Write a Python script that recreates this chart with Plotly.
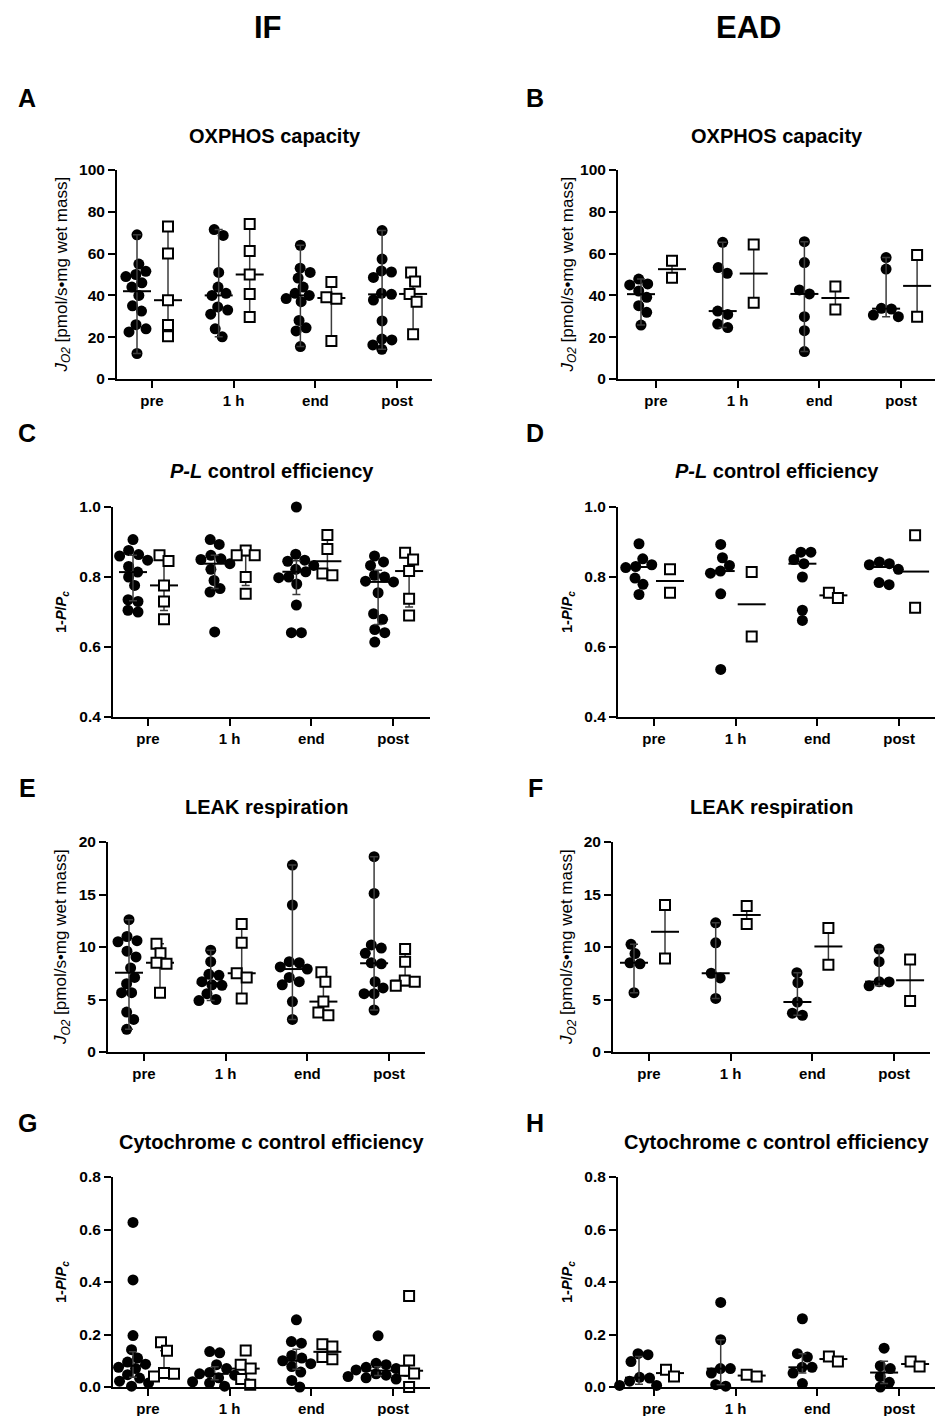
import numpy as np
import plotly.graph_objects as go

W, H = 936, 1416
FONT = "Liberation Sans, Arial, Helvetica, sans-serif"
categories = ["pre", "1 h", "end", "post"]

# ---------------- data ----------------
A_filled = [
    [69, 55, 51.5, 50, 49, 46, 44, 40, 35, 32.5, 26, 24, 22.5, 12.2],
    [71.5, 68.7, 51, 44, 41, 40, 34.5, 33, 31, 24, 20.2],
    [64, 53, 51, 48.3, 44, 41, 40, 38.5, 37, 28, 24.5, 23, 15.5],
    [71, 57.4, 51.7, 51.2, 48.6, 41, 40.5, 37.8, 27.8, 19.1, 18.7, 16.3, 14.2],
]
A_open = [
    [73, 60, 37.7, 25.8, 20.5],
    [74.2, 61.2, 50, 40.7, 29.7],
    [46.4, 39.1, 38.4, 18.2],
    [51, 46.6, 40.7, 37, 21.4],
]
B_filled = [
    [47.8, 45.5, 45.0, 42.1, 39.1, 35.1, 31.9, 25.8],
    [65.4, 53.3, 50.6, 32.5, 30.9, 26.3, 24.6],
    [65.7, 55.7, 42.6, 40.7, 29.8, 23.1, 13.1],
    [58.1, 52.6, 33.8, 33.5, 30.6, 29.8],
]
B_open = [[56.6, 48.5], [64.4, 36.5], [44.2, 33.3], [59.3, 29.8]]
C_filled = [
    [0.907, 0.876, 0.864, 0.86, 0.848, 0.83, 0.814, 0.80, 0.776, 0.735, 0.73, 0.705, 0.70],
    [0.907, 0.893, 0.862, 0.852, 0.85, 0.838, 0.822, 0.79, 0.767, 0.757, 0.643],
    [1.0, 0.865, 0.848, 0.845, 0.833, 0.822, 0.815, 0.80, 0.798, 0.78, 0.72, 0.641, 0.641],
    [0.86, 0.843, 0.833, 0.805, 0.80, 0.788, 0.786, 0.755, 0.695, 0.679, 0.65, 0.641, 0.614],
]
C_open = [
    [0.862, 0.846, 0.776, 0.730, 0.679],
    [0.876, 0.862, 0.862, 0.80, 0.752],
    [0.92, 0.88, 0.81, 0.805],
    [0.869, 0.85, 0.817, 0.738, 0.69],
]
D_filled = [
    [0.895, 0.852, 0.835, 0.83, 0.827, 0.797, 0.779, 0.75],
    [0.893, 0.855, 0.833, 0.817, 0.811, 0.752, 0.536],
    [0.871, 0.871, 0.85, 0.838, 0.80, 0.705, 0.676],
    [0.843, 0.838, 0.835, 0.822, 0.784, 0.778],
]
D_open = [[0.822, 0.755], [0.814, 0.63], [0.755, 0.74], [0.919, 0.712]]
E_filled = [
    [12.6, 11.0, 10.6, 10.5, 9.6, 9.05, 8.0, 7.1, 6.5, 5.65, 5.65, 3.8, 3.1, 2.16],
    [9.7, 8.6, 7.4, 7.3, 6.7, 6.4, 6.35, 5.55, 5.0, 4.9],
    [17.8, 14.0, 8.6, 8.5, 8.1, 7.9, 7.1, 6.7, 6.4, 4.8, 3.1],
    [18.6, 15.1, 10.2, 9.9, 9.4, 8.5, 8.4, 6.7, 6.1, 5.55, 5.55, 4.0],
]
E_open = [
    [10.3, 9.4, 8.5, 8.4, 5.65],
    [12.2, 10.4, 7.5, 7.1, 5.1],
    [7.6, 6.7, 4.8, 3.75, 3.5],
    [9.8, 8.6, 6.8, 6.7, 6.3],
]
F_filled = [
    [10.25, 9.37, 8.5, 8.4, 5.65],
    [12.3, 10.4, 7.5, 7.05, 5.1],
    [7.55, 6.6, 4.76, 3.7, 3.5],
    [9.8, 8.6, 6.7, 6.67, 6.3],
]
F_open = [[14.0, 8.9], [13.9, 12.2], [11.8, 8.3], [8.8, 4.86]]
G_filled = [
    [0.627, 0.408, 0.196, 0.142, 0.11, 0.095, 0.087, 0.075, 0.07, 0.047, 0.034, 0.022, 0.015, 0.003],
    [0.135, 0.13, 0.085, 0.07, 0.055, 0.05, 0.045, 0.035, 0.02, 0.015, 0.003],
    [0.256, 0.173, 0.167, 0.12, 0.11, 0.1, 0.089, 0.078, 0.057, 0.025, 0.0],
    [0.195, 0.09, 0.085, 0.075, 0.07, 0.065, 0.06, 0.05, 0.045, 0.04, 0.035, 0.03],
]
G_open = [
    [0.17, 0.138, 0.053, 0.05, 0.04],
    [0.139, 0.085, 0.07, 0.03, 0.009],
    [0.163, 0.154, 0.114, 0.106],
    [0.347, 0.101, 0.062, 0.051, 0.0],
]
H_filled = [
    [0.127, 0.123, 0.097, 0.037, 0.034, 0.022, 0.006, 0.006],
    [0.322, 0.18, 0.07, 0.07, 0.053, 0.009, 0.003],
    [0.26, 0.127, 0.114, 0.075, 0.075, 0.053, 0.013],
    [0.148, 0.081, 0.07, 0.04, 0.018, 0.0],
]
H_open = [[0.066, 0.04], [0.047, 0.04], [0.116, 0.097], [0.097, 0.078]]

# ---------------- text ----------------
JO2 = "<i>J</i><sub><i>O2</i></sub> [pmol/s•mg wet mass]"
PPC = "<b>1-<i>P</i>/<i>P</i><sub><i>c</i></sub></b>"
T_OX = "<b>OXPHOS capacity</b>"
T_PL = "<b><i>P-L</i> control efficiency</b>"
T_LK = "<b>LEAK respiration</b>"
T_CY = "<b>Cytochrome c control efficiency</b>"

# ---------------- layout spec (pixels) ----------------
panels = [
    dict(L="A", f=A_filled, o=A_open, x0=117, x1=432, p0=152, yt=170, yb=379, yr=[0, 100],
         tv=[0, 20, 40, 60, 80, 100], fmt="d", bars="range", q="", title=T_OX, ytitle=JO2, ys=17, ty=136, ly=98),
    dict(L="B", f=B_filled, o=B_open, x0=618, x1=935, p0=656, yt=170, yb=379, yr=[0, 100],
         tv=[0, 20, 40, 60, 80, 100], fmt="d", bars="range", q="", title=T_OX, ytitle=JO2, ys=17, ty=136, ly=98),
    dict(L="C", f=C_filled, o=C_open, x0=113, x1=430, p0=148, yt=507, yb=717, yr=[0.4, 1.0],
         tv=[0.4, 0.6, 0.8, 1.0], fmt=".1f", bars="iqr", q="weibull", title=T_PL, ytitle=PPC, ys=14.5, ty=471, ly=433),
    dict(L="D", f=D_filled, o=D_open, x0=618, x1=935, p0=654, yt=507, yb=717, yr=[0.4, 1.0],
         tv=[0.4, 0.6, 0.8, 1.0], fmt=".1f", bars="none", q="", title=T_PL, ytitle=PPC, ys=14.5, ty=471, ly=433),
    dict(L="E", f=E_filled, o=E_open, x0=108, x1=425, p0=144, yt=842, yb=1052, yr=[0, 20],
         tv=[0, 5, 10, 15, 20], fmt="d", bars="range", q="", title=T_LK, ytitle=JO2, ys=17, ty=807, ly=788),
    dict(L="F", f=F_filled, o=F_open, x0=613, x1=930, p0=649, yt=842, yb=1052, yr=[0, 20],
         tv=[0, 5, 10, 15, 20], fmt="d", bars="range", q="", title=T_LK, ytitle=JO2, ys=17, ty=807, ly=788),
    dict(L="G", f=G_filled, o=G_open, x0=113, x1=430, p0=148, yt=1177, yb=1387, yr=[0, 0.8],
         tv=[0, 0.2, 0.4, 0.6, 0.8], fmt=".1f", bars="iqr", q="linear", title=T_CY, ytitle=PPC, ys=14.5, ty=1142, ly=1123),
    dict(L="H", f=H_filled, o=H_open, x0=618, x1=935, p0=654, yt=1177, yb=1387, yr=[0, 0.8],
         tv=[0, 0.2, 0.4, 0.6, 0.8], fmt=".1f", bars="iqr", q="weibull", title=T_CY, ytitle=PPC, ys=14.5, ty=1142, ly=1123),
]

PPX = 81.7  # px per category step


def swarm(vals, ppy, d=10.0):
    """Greedy beeswarm offsets (px), then each overlapping chain is re-centred."""
    placed, offs = [], []
    cands = [0.0]
    for k in range(1, 40):
        cands += [float(k), float(-k)]
    for v in vals:
        y = v * ppy
        chosen = cands[-1]
        for c in cands:
            if all((c - px) ** 2 + (y - py) ** 2 >= d * d for px, py in placed):
                chosen = c
                break
        placed.append((chosen, y))
        offs.append(chosen)
    # re-centre chains of vertically overlapping points
    order = sorted(range(len(vals)), key=lambda k: vals[k])
    chains, cur = [], [order[0]] if order else []
    for a, b in zip(order[:-1], order[1:]):
        if (vals[b] - vals[a]) * ppy < d:
            cur.append(b)
        else:
            chains.append(cur)
            cur = [b]
    if cur:
        chains.append(cur)
    for ch in chains:
        if len(ch) > 1:
            m = sum(offs[k] for k in ch) / len(ch)
            for k in ch:
                offs[k] -= m
    return offs


fig = go.Figure()
layout = dict(template="none", width=W, height=H, autosize=False,
              margin=dict(l=0, r=0, t=0, b=0, pad=0),
              paper_bgcolor="white", plot_bgcolor="white", showlegend=False,
              font=dict(family=FONT, color="black"))
ann = []


def yp(px):
    return 1 - px / H


for i, p in enumerate(panels):
    n = i + 1
    sx = "" if n == 1 else str(n)
    xref, yref = "x" + sx, "y" + sx
    lo = (p["x0"] - p["p0"]) / PPX
    hi = (p["x1"] - p["p0"]) / PPX
    ppy = (p["yb"] - p["yt"]) / (p["yr"][1] - p["yr"][0])

    layout["xaxis" + sx] = dict(
        domain=[p["x0"] / W, p["x1"] / W], range=[lo, hi], anchor=yref, automargin=False,
        tickmode="array", tickvals=[0, 1, 2, 3], ticktext=categories,
        showline=True, linecolor="black", linewidth=2, ticks="outside", ticklen=7,
        tickwidth=2, tickcolor="black", showgrid=False, zeroline=False,
        tickfont=dict(family=FONT, size=15, color="black", weight="bold"), fixedrange=True)
    layout["yaxis" + sx] = dict(
        domain=[yp(p["yb"]), yp(p["yt"])], range=p["yr"], anchor=xref, automargin=False,
        tickmode="array", tickvals=p["tv"], tickformat=p["fmt"],
        showline=True, linecolor="black", linewidth=2, ticks="outside", ticklen=7,
        tickwidth=2, tickcolor="black", showgrid=False, zeroline=False,
        tickfont=dict(family=FONT, size=15.5, color="black", weight="bold"), fixedrange=True)

    pts, summ = {}, {}
    for key, data, cpx in (("f", p["f"], -15.0), ("o", p["o"], 16.0)):
        xs, ys = [], []
        mx, my, up, dn = [], [], [], []
        for ci, vals in enumerate(data):
            offs = swarm(vals, ppy, d=10.0)
            for v, o in zip(vals, offs):
                xs.append(ci + (cpx + o) / PPX)
                ys.append(v)
            arr = np.array(vals, dtype=float)
            med = float(np.median(arr))
            if p["bars"] == "range":
                a, b = arr.min(), arr.max()
            elif p["bars"] == "iqr" and len(arr) >= 3:
                a, b = np.percentile(arr, [25, 75], method=p["q"])
            else:
                a, b = med, med
            mx.append(ci + cpx / PPX)
            my.append(med)
            up.append(float(b - med))
            dn.append(float(med - a))
        pts[key] = (xs, ys)
        summ[key] = (mx, my, up, dn)

    fig.add_trace(go.Scatter(x=pts["f"][0], y=pts["f"][1], xaxis=xref, yaxis=yref,
                             mode="markers", cliponaxis=False, hoverinfo="skip",
                             marker=dict(symbol="circle", size=11, color="black",
                                         line=dict(width=0))))
    for key in ("f", "o"):
        mx, my, up, dn = summ[key]
        ey = None
        if p["bars"] != "none":
            ey = dict(type="data", symmetric=False, array=up, arrayminus=dn,
                      color="#3c3c3c", thickness=1.5, width=4)
        fig.add_trace(go.Scatter(x=mx, y=my, xaxis=xref, yaxis=yref, mode="markers",
                                 cliponaxis=False, hoverinfo="skip", error_y=ey,
                                 marker=dict(symbol="line-ew", size=20, color="black",
                                             line=dict(width=2, color="black"))))
    fig.add_trace(go.Scatter(x=pts["o"][0], y=pts["o"][1], xaxis=xref, yaxis=yref,
                             mode="markers", cliponaxis=False, hoverinfo="skip",
                             marker=dict(symbol="square", size=10, color="white",
                                         line=dict(width=2, color="black"))))

    colL = p["x0"] < 468
    ann.append(dict(text=p["title"], x=(p["x0"] + p["x1"]) / 2 / W, y=yp(p["ty"]),
                    xref="paper", yref="paper", xanchor="center", yanchor="middle",
                    showarrow=False, font=dict(family=FONT, size=20, color="black")))
    ann.append(dict(text="<b>%s</b>" % p["L"], x=(27 if colL else 535) / W, y=yp(p["ly"]),
                    xref="paper", yref="paper", xanchor="center", yanchor="middle",
                    showarrow=False, font=dict(family=FONT, size=25, color="black")))
    ann.append(dict(text=p["ytitle"], x=(62 if colL else 568) / W,
                    y=yp((p["yt"] + p["yb"]) / 2), xref="paper", yref="paper",
                    xanchor="center", yanchor="middle", textangle=-90, showarrow=False,
                    font=dict(family=FONT, size=p["ys"], color="black")))

ann.append(dict(text="<b>IF</b>", x=268 / W, y=yp(28), xref="paper", yref="paper",
                xanchor="center", yanchor="middle", showarrow=False,
                font=dict(family=FONT, size=31, color="black")))
ann.append(dict(text="<b>EAD</b>", x=748 / W, y=yp(28), xref="paper", yref="paper",
                xanchor="center", yanchor="middle", showarrow=False,
                font=dict(family=FONT, size=31, color="black")))

layout["annotations"] = ann
fig.update_layout(**layout)
fig.write_html("out.html")
